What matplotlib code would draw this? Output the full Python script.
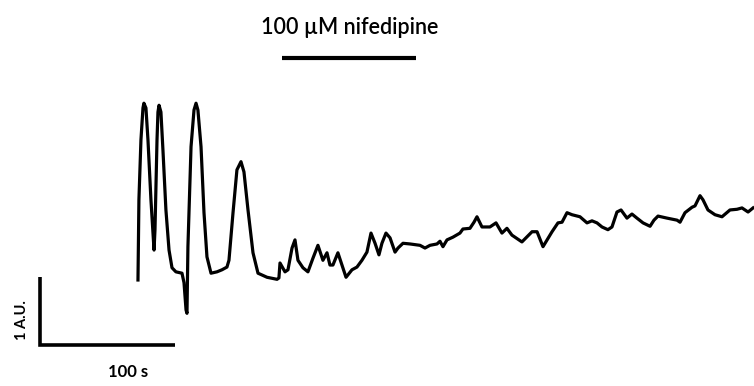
import matplotlib
matplotlib.use("Agg")
import matplotlib.pyplot as plt

# calcium trace: time (s) from trace start, signal (A.U.)
time_s = [0, 0.7, 2.2, 3.7, 4.4, 5.9, 7.4, 9.6, 11.9, 12.6, 14.1, 14.8, 15.6, 17.0,
          18.5, 20.7, 23.0, 25.2, 28.1, 32.6, 34.1, 35.6, 36.3, 37.0, 39.3, 41.5,
          43.0, 44.4, 46.7, 48.9, 51.1, 54.1, 58.5, 62.2, 65.9, 67.4, 70.4, 73.3,
          76.3, 78.5, 81.5, 85.2, 88.9, 95.6, 103.0, 104.4, 105.2, 108.9, 111.1,
          114.1, 116.3, 118.5, 122.2, 125.9, 129.6, 133.3, 137.0, 140.0, 142.2,
          144.4, 148.1, 151.1, 154.1, 158.5, 162.2, 165.9, 169.6, 172.6, 175.6,
          178.5, 180.7, 183.7, 186.7, 190.4, 192.6, 196.3, 201.5, 208.9, 212.6,
          216.3, 221.5, 223.7, 225.9, 228.9, 233.3, 238.5, 240.7, 245.9, 248.9,
          251.1, 254.8, 260.7, 265.2, 269.6, 273.3, 277.0, 284.4, 291.9, 295.6,
          300.0, 306.7, 311.1, 314.1, 317.8, 321.5, 327.4, 332.6, 336.3, 340.0,
          343.7, 348.1, 351.1, 354.8, 357.8, 362.2, 365.9, 369.6, 374.1, 379.3,
          382.2, 385.2, 391.9, 399.3, 401.5, 405.2, 410.4, 412.6, 416.3, 418.5,
          422.2, 427.4, 432.6, 438.5, 443.7, 447.4, 451.9, 455.6]
signal = [0, 1.18, 2.06, 2.53, 2.60, 2.53, 2.06, 1.18, 0.44, 0.74, 2.06, 2.47, 2.57,
          2.47, 1.91, 1.03, 0.44, 0.18, 0.12, 0.10, -0.04, -0.44, -0.49, 0.49, 1.96,
          2.50, 2.60, 2.50, 1.96, 0.99, 0.34, 0.10, 0.12, 0.15, 0.19, 0.29, 0.99,
          1.62, 1.74, 1.59, 1.03, 0.40, 0.10, 0.04, 0.01, 0.03, 0.25, 0.12, 0.15,
          0.47, 0.59, 0.29, 0.18, 0.12, 0.32, 0.51, 0.29, 0.40, 0.22, 0.22, 0.40,
          0.22, 0.04, 0.15, 0.19, 0.29, 0.41, 0.69, 0.54, 0.37, 0.54, 0.69, 0.62,
          0.41, 0.47, 0.54, 0.53, 0.51, 0.47, 0.51, 0.53, 0.57, 0.49, 0.59, 0.63,
          0.69, 0.75, 0.76, 0.85, 0.93, 0.78, 0.78, 0.84, 0.69, 0.76, 0.66, 0.56,
          0.71, 0.71, 0.49, 0.71, 0.84, 0.85, 0.99, 0.96, 0.93, 0.84, 0.87, 0.84,
          0.78, 0.74, 0.78, 1.00, 1.03, 0.91, 0.97, 0.91, 0.84, 0.79, 0.88, 0.94,
          0.91, 0.88, 0.85, 0.99, 1.07, 1.09, 1.24, 1.18, 1.03, 0.96, 0.93, 1.03,
          1.04, 1.06, 1.00, 1.06]

drug_label = "100 \u00b5M nifedipine"
drug_on, drug_off = 107, 206  # s
bar_level = 3.26

scale_t = 100   # s
scale_y = 1     # A.U.
scale_origin = (-72.6, -0.96)

fig = plt.figure(figsize=(7.54, 3.86), dpi=100)
ax = fig.add_axes([0, 0, 1, 1])
ax.set_xlim(-102.2, 456.3)
ax.set_ylim(-1.559, 4.118)
ax.axis("off")

ax.plot(time_s, signal, color="black", lw=2.3, solid_joinstyle="round")

# drug application bar
ax.plot([drug_on, drug_off], [bar_level, bar_level], color="black", lw=3,
        solid_capstyle="butt")
ax.text((drug_on + drug_off) / 2, 3.72, drug_label, ha="center", va="center",
        fontsize=15.5, fontweight="semibold", family="Lato")

# scale bars
x0, y0 = scale_origin
ax.plot([x0, x0, x0 + scale_t], [y0 + scale_y, y0, y0], color="black", lw=2.6,
        solid_capstyle="butt", solid_joinstyle="miter")
ax.text(x0 - 13, y0 + 0.37, "1 A.U.", rotation=90, ha="center", va="center",
        fontsize=10.5, fontweight="bold", family="Lato")
ax.text(x0 + 65, -1.36, "100 s", ha="center", va="center", fontsize=12,
        fontweight="bold", family="Lato")

fig.savefig("out.png", dpi=100)
